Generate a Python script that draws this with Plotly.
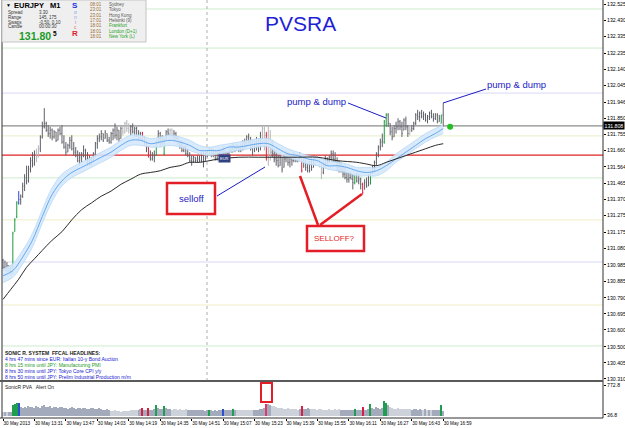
import plotly.graph_objects as go

# ---------------- data ----------------
bar_index = list(range(225))

high = [131.02,131.01,131.00,130.98,130.98,131.18,131.26,131.36,131.42,131.40,
        131.47,131.52,131.57,131.57,131.62,131.65,131.66,131.67,131.69,131.75,
        131.83,131.91,131.83,131.81,131.80,131.79,131.78,131.77,131.79,131.80,
        131.81,131.75,131.71,131.70,131.74,131.75,131.71,131.68,131.66,131.65,
        131.65,131.69,131.67,131.65,131.63,131.62,131.65,131.71,131.75,131.76,
        131.78,131.76,131.78,131.76,131.74,131.77,131.79,131.82,131.80,131.78,
        131.80,131.81,131.83,131.84,131.82,131.81,131.82,131.80,131.80,131.78,
        131.77,131.77,131.74,131.72,131.69,131.66,131.65,131.66,131.72,131.78,
        131.77,131.75,131.73,131.78,131.79,131.79,131.79,131.78,131.77,131.74,
        131.72,131.72,131.69,131.69,131.67,131.65,131.63,131.63,131.62,131.63,
        131.63,131.65,131.65,131.65,131.66,131.68,131.67,131.67,131.66,131.66,
        131.67,131.66,131.68,131.67,131.66,131.67,131.69,131.70,131.69,131.70,
        131.69,131.70,131.72,131.73,131.75,131.76,131.74,131.72,131.72,131.74,
        131.73,131.77,131.81,131.80,131.77,131.81,131.78,131.72,131.67,131.66,
        131.63,131.65,131.62,131.63,131.66,131.65,131.63,131.63,131.65,131.63,
        131.62,131.65,131.62,131.62,131.60,131.59,131.60,131.62,131.62,131.63,
        131.63,131.62,131.59,131.60,131.63,131.62,131.63,131.66,131.66,131.65,
        131.62,131.60,131.59,131.57,131.56,131.53,131.53,131.53,131.52,131.52,
        131.53,131.52,131.50,131.47,131.49,131.50,131.52,131.53,131.57,131.60,
        131.65,131.69,131.73,131.76,131.84,131.88,131.88,131.82,131.80,131.81,
        131.83,131.85,131.84,131.83,131.85,131.86,131.81,131.80,131.81,131.83,
        131.88,131.90,131.89,131.90,131.89,131.88,131.87,131.89,131.90,131.88,
        131.88,131.88,131.87,131.87,131.94]

low = [130.96,130.95,130.94,130.94,130.92,130.93,131.18,131.26,131.34,131.34,
       131.38,131.42,131.46,131.47,131.53,131.56,131.57,131.59,131.62,131.65,
       131.73,131.79,131.77,131.74,131.73,131.72,131.73,131.71,131.72,131.75,
       131.70,131.67,131.63,131.65,131.67,131.66,131.63,131.62,131.59,131.57,
       131.59,131.62,131.60,131.57,131.57,131.57,131.59,131.62,131.67,131.71,
       131.72,131.71,131.73,131.71,131.70,131.70,131.72,131.73,131.72,131.71,
       131.73,131.75,131.76,131.77,131.76,131.75,131.76,131.74,131.74,131.72,
       131.72,131.72,131.69,131.65,131.62,131.60,131.60,131.59,131.63,131.70,
       131.68,131.69,131.63,131.72,131.75,131.73,131.73,131.72,131.72,131.69,
       131.67,131.65,131.65,131.63,131.62,131.59,131.57,131.59,131.59,131.59,
       131.59,131.59,131.56,131.60,131.62,131.63,131.62,131.62,131.60,131.60,
       131.62,131.60,131.62,131.62,131.60,131.63,131.65,131.65,131.65,131.66,
       131.65,131.65,131.66,131.67,131.68,131.69,131.66,131.63,131.65,131.66,
       131.65,131.66,131.69,131.66,131.60,131.57,131.60,131.62,131.59,131.57,
       131.56,131.57,131.53,131.56,131.59,131.57,131.56,131.57,131.59,131.59,
       131.59,131.60,131.53,131.56,131.54,131.53,131.53,131.54,131.56,131.57,
       131.59,131.56,131.49,131.52,131.56,131.57,131.59,131.60,131.59,131.59,
       131.54,131.53,131.53,131.50,131.49,131.47,131.47,131.49,131.43,131.46,
       131.47,131.46,131.43,131.40,131.43,131.44,131.45,131.46,131.52,131.53,
       131.57,131.62,131.66,131.68,131.70,131.80,131.80,131.75,131.72,131.74,
       131.76,131.78,131.78,131.74,131.78,131.78,131.74,131.75,131.77,131.78,
       131.81,131.84,131.83,131.85,131.84,131.83,131.82,131.84,131.85,131.83,
       131.84,131.82,131.83,131.82,131.80]

open_ = [131.01,130.97,130.96,130.98,130.95,130.94,131.18,131.27,131.35,131.37,
         131.39,131.45,131.50,131.48,131.55,131.60,131.58,131.64,131.62,131.67,
         131.74,131.80,131.82,131.78,131.76,131.78,131.74,131.77,131.72,131.78,
         131.76,131.71,131.68,131.65,131.69,131.72,131.67,131.65,131.63,131.60,
         131.62,131.64,131.66,131.61,131.59,131.60,131.59,131.64,131.70,131.73,
         131.74,131.76,131.73,131.76,131.72,131.71,131.76,131.78,131.75,131.78,
         131.73,131.79,131.77,131.82,131.79,131.78,131.80,131.77,131.79,131.75,
         131.76,131.76,131.72,131.70,131.68,131.62,131.61,131.63,131.63,131.71,
         131.76,131.70,131.64,131.73,131.77,131.76,131.78,131.74,131.76,131.73,
         131.70,131.69,131.66,131.68,131.64,131.63,131.60,131.59,131.62,131.60,
         131.61,131.60,131.63,131.60,131.64,131.63,131.67,131.64,131.66,131.61,
         131.64,131.63,131.62,131.67,131.63,131.64,131.66,131.65,131.69,131.66,
         131.69,131.66,131.69,131.71,131.70,131.74,131.71,131.67,131.69,131.70,
         131.68,131.72,131.75,131.79,131.75,131.62,131.68,131.65,131.64,131.61,
         131.60,131.57,131.62,131.56,131.61,131.64,131.59,131.61,131.60,131.63,
         131.60,131.61,131.61,131.56,131.60,131.56,131.54,131.58,131.56,131.61,
         131.59,131.62,131.57,131.53,131.58,131.61,131.59,131.62,131.64,131.61,
         131.60,131.56,131.55,131.54,131.52,131.50,131.49,131.50,131.49,131.47,
         131.52,131.48,131.49,131.46,131.43,131.47,131.45,131.46,131.53,131.56,
         131.59,131.64,131.68,131.71,131.71,131.81,131.87,131.82,131.77,131.74,
         131.79,131.80,131.83,131.80,131.78,131.84,131.80,131.76,131.78,131.79,
         131.82,131.87,131.86,131.88,131.86,131.87,131.84,131.86,131.88,131.86,
         131.85,131.87,131.83,131.82,131.87]

close = [130.97,130.96,130.98,130.95,130.94,131.17,131.25,131.35,131.37,131.39,
         131.45,131.50,131.48,131.55,131.60,131.58,131.64,131.61,131.67,131.74,
         131.80,131.82,131.78,131.76,131.78,131.74,131.77,131.72,131.78,131.76,
         131.71,131.68,131.65,131.69,131.72,131.67,131.65,131.63,131.60,131.62,
         131.64,131.66,131.61,131.59,131.60,131.58,131.64,131.70,131.73,131.74,
         131.76,131.72,131.77,131.72,131.71,131.76,131.78,131.75,131.78,131.73,
         131.79,131.77,131.82,131.79,131.78,131.80,131.77,131.79,131.75,131.76,
         131.76,131.72,131.70,131.67,131.62,131.61,131.63,131.62,131.71,131.76,
         131.70,131.72,131.73,131.77,131.76,131.78,131.74,131.76,131.73,131.70,
         131.69,131.66,131.68,131.64,131.63,131.60,131.59,131.62,131.60,131.61,
         131.60,131.63,131.58,131.64,131.63,131.67,131.64,131.66,131.61,131.64,
         131.63,131.62,131.67,131.63,131.64,131.66,131.65,131.70,131.66,131.69,
         131.66,131.69,131.71,131.70,131.74,131.71,131.67,131.69,131.70,131.68,
         131.72,131.75,131.79,131.74,131.62,131.68,131.65,131.64,131.61,131.60,
         131.57,131.62,131.55,131.61,131.64,131.59,131.61,131.60,131.63,131.60,
         131.61,131.62,131.54,131.60,131.56,131.54,131.58,131.56,131.61,131.59,
         131.62,131.57,131.53,131.58,131.61,131.59,131.62,131.64,131.61,131.60,
         131.56,131.55,131.54,131.52,131.50,131.49,131.50,131.49,131.47,131.52,
         131.48,131.49,131.46,131.41,131.47,131.45,131.47,131.53,131.56,131.59,
         131.64,131.68,131.71,131.72,131.83,131.87,131.82,131.77,131.74,131.79,
         131.80,131.83,131.80,131.76,131.84,131.80,131.76,131.78,131.79,131.82,
         131.87,131.86,131.88,131.86,131.87,131.84,131.86,131.88,131.86,131.85,
         131.87,131.83,131.85,131.87,131.81]

volume = [110,120,100,115,105,290,310,320,330,230,
          210,240,220,250,230,240,220,250,230,210,
          260,270,240,230,250,220,240,230,210,225,
          240,200,220,190,210,230,200,180,210,220,
          190,200,215,190,180,200,210,190,185,200,
          175,170,160,180,150,140,130,150,140,130,
          120,135,125,140,130,150,160,170,160,150,
          180,200,170,160,210,170,160,180,270,200,
          190,180,260,210,190,180,170,190,175,165,
          180,170,160,175,165,155,170,160,150,165,
          155,160,150,145,155,160,150,140,155,145,
          150,160,185,170,160,150,165,190,160,150,
          165,155,170,160,150,165,170,160,150,160,
          170,180,190,200,300,310,280,260,250,230,
          220,200,210,190,185,200,180,175,190,180,
          170,185,250,190,180,200,185,175,190,180,
          170,185,175,160,170,165,175,160,170,180,
          165,175,170,160,150,165,155,170,160,190,
          160,170,150,240,150,160,180,310,200,180,
          240,200,190,220,370,330,280,230,200,190,
          180,200,190,180,185,175,190,180,170,185,
          175,165,180,170,160,175,165,155,170,160,
          150,165,155,270,140]

green_bars = [5, 6, 7, 78, 82, 105, 117, 179, 187, 194, 195, 223]
red_bars = [71, 74, 152, 183]
blue_bars = [8, 112]
climax_bars = [134]
light_bars = [17, 18, 61, 62, 63, 64, 85, 86, 132, 133, 135, 136, 159, 160, 161, 162, 207]
volume_light_bars = ([0, 2] + list(range(55, 69)) + list(range(86, 94)) + list(range(119, 128))
                     + list(range(137, 151)) + list(range(157, 172)) + list(range(197, 208)) + [214, 216, 218])

# Sonic R dragon (EMA34 of high / close / low), sampled every 5 bars
dragon_index = [0,5,10,15,20,25,30,35,40,45,50,55,60,65,70,75,80,85,90,95,100,105,110,115,120,
                125,130,135,140,145,150,155,160,165,170,175,180,185,190,195,200,205,210,215,220,224]
dragon_mid = [130.92,130.95,131.03,131.13,131.27,131.40,131.48,131.53,131.56,131.59,131.62,131.65,
              131.69,131.72,131.72,131.70,131.71,131.72,131.71,131.69,131.66,131.66,131.66,131.68,
              131.68,131.69,131.70,131.70,131.67,131.64,131.63,131.61,131.60,131.57,131.57,131.56,
              131.54,131.53,131.54,131.57,131.61,131.65,131.69,131.73,131.76,131.79]
dragon_high = [130.96,130.99,131.07,131.17,131.31,131.44,131.52,131.56,131.59,131.62,131.65,131.68,
               131.72,131.75,131.75,131.73,131.74,131.75,131.74,131.72,131.69,131.68,131.69,131.70,
               131.71,131.72,131.73,131.73,131.70,131.67,131.65,131.63,131.62,131.60,131.59,131.58,
               131.56,131.56,131.56,131.59,131.64,131.68,131.72,131.76,131.79,131.81]
dragon_low = [130.88,130.91,130.99,131.09,131.23,131.36,131.45,131.50,131.53,131.56,131.59,131.62,
              131.66,131.69,131.69,131.68,131.68,131.69,131.68,131.66,131.64,131.63,131.64,131.65,
              131.66,131.67,131.68,131.68,131.64,131.62,131.60,131.58,131.57,131.55,131.54,131.53,
              131.51,131.51,131.51,131.54,131.59,131.63,131.67,131.71,131.74,131.76]

# slow moving average
slow_ma_index = [0,4,8,12,16,20,25,30,35,40,45,50,55,60,65,70,75,80,85,90,95,100,110,120,130,140,
                 150,160,170,180,185,190,195,200,205,210,215,220,224]
slow_ma = [130.78,130.84,130.90,130.97,131.02,131.07,131.13,131.18,131.25,131.31,131.35,131.39,
           131.42,131.46,131.49,131.52,131.53,131.54,131.56,131.57,131.59,131.59,131.61,131.62,
           131.62,131.62,131.62,131.62,131.60,131.59,131.58,131.57,131.59,131.61,131.63,131.65,
           131.67,131.69,131.70]

# horizontal levels
level_prices = [132.496, 132.265, 131.999, 131.746, 131.633, 131.498, 131.250, 131.001, 130.747, 130.505]
level_colors = ["#cdeccd", "#cdeccd", "#d8d8f6", "#e4efc8", "#e02424", "#cdeccd", "#eeeec8", "#d8d8f6", "#eeeec8", "#cdeccd"]
bid_price = 131.805
bid_label = "131.808"
news_event_index = 103.8
signal_index = [227.5]
signal_price = [131.80]

price_tick_values = [132.525,132.430,132.335,132.235,132.140,132.045,131.946,131.850,131.755,131.660,
                     131.564,131.465,131.370,131.275,131.175,131.080,130.985,130.885,130.790,130.695,
                     130.600,130.500,130.405,130.310]
price_tick_text = ["%.3f" % v for v in price_tick_values]
volume_tick_values = [36.8, 772.8]
volume_tick_text = ["36.8", "772.8"]

time_tick_index = [0,16,32,48,64,80,96,112,128,144,160,176,192,208,224]
time_tick_text = ["30 May 2013","30 May 13:31","30 May 13:47","30 May 14:03","30 May 14:19",
                  "30 May 14:35","30 May 14:51","30 May 15:07","30 May 15:23","30 May 15:39",
                  "30 May 15:55","30 May 16:11","30 May 16:27","30 May 16:43","30 May 16:59"]

# ---------------- figure ----------------
W, H = 625, 428
ML, MR, MT, MB = 2, 22, 0, 10
PW, PH = W - ML - MR, H - MT - MB
FONT = "Liberation Sans, Arial, sans-serif"


def px(x):
    return (x - ML) / PW


def py(y):
    return (H - MB - y) / PH


kind = ["n"] * len(bar_index)
for i in light_bars:
    kind[i] = "l"
for i in green_bars:
    kind[i] = "g"
for i in red_bars:
    kind[i] = "r"
for i in blue_bars:
    kind[i] = "b"
for i in climax_bars:
    kind[i] = "m"

candle_colors = {"n": "#5e5e68", "l": "#b4b4b8", "g": "#1e9a3c", "r": "#e0203c", "b": "#3048c8", "m": "#e0203c"}

fig = go.Figure()

# dragon band
fig.add_trace(go.Scatter(x=dragon_index, y=dragon_low, mode="lines", line=dict(color="#b6d8f6", width=0.8, shape="spline"),
                         hoverinfo="skip", showlegend=False))
fig.add_trace(go.Scatter(x=dragon_index, y=dragon_high, mode="lines", line=dict(color="#b6d8f6", width=0.8, shape="spline"),
                         fill="tonexty", fillcolor="rgba(212,232,251,0.9)", hoverinfo="skip", showlegend=False))
fig.add_trace(go.Scatter(x=dragon_index, y=dragon_mid, mode="lines", line=dict(color="#4a98ec", width=0.8, shape="spline"),
                         hoverinfo="skip", showlegend=False))
fig.add_trace(go.Scatter(x=slow_ma_index, y=slow_ma, mode="lines", line=dict(color="#2a2a2a", width=1, shape="spline"),
                         hoverinfo="skip", showlegend=False))

# price bars
for k, col in candle_colors.items():
    idx = [i for i in bar_index if kind[i] == k]
    if not idx:
        continue
    fig.add_trace(go.Ohlc(x=idx, open=[open_[i] for i in idx], high=[high[i] for i in idx],
                          low=[low[i] for i in idx], close=[close[i] for i in idx],
                          increasing=dict(line=dict(color=col, width=1)),
                          decreasing=dict(line=dict(color=col, width=1)),
                          tickwidth=0.3, hoverinfo="skip", showlegend=False, xaxis="x", yaxis="y"))

fig.add_trace(go.Scatter(x=signal_index, y=signal_price, mode="markers",
                         marker=dict(color="#22c022", size=6), hoverinfo="skip", showlegend=False))

# volume bars
vol_colors = {"n": "#a3aabb", "l": "#cdd1d9", "g": "#1f9e4f", "r": "#d81e45", "b": "#2e4fd0", "m": "#e0386e"}
vkind = list(kind)
for i in volume_light_bars:
    if vkind[i] in ("n", "l"):
        vkind[i] = "l"
for i in bar_index:
    if vkind[i] == "l" and i not in volume_light_bars:
        vkind[i] = "n"
for k, col in vol_colors.items():
    idx = [i for i in bar_index if vkind[i] == k]
    if not idx:
        continue
    fig.add_trace(go.Bar(x=idx, y=[volume[i] for i in idx], marker=dict(color=col, line=dict(width=0)),
                         width=0.62, hoverinfo="skip", showlegend=False, xaxis="x", yaxis="y2"))

shapes = []
# levels
for p, c in zip(level_prices, level_colors):
    shapes.append(dict(type="line", xref="paper", x0=0, x1=1, yref="y", y0=p, y1=p,
                       line=dict(color=c, width=1.2 if c == "#e02424" else 1), layer="below"))
shapes.append(dict(type="line", xref="paper", x0=0, x1=1, yref="y", y0=bid_price, y1=bid_price,
                   line=dict(color="#8c8c8c", width=1.3), layer="below"))
shapes.append(dict(type="line", xref="x", x0=news_event_index, x1=news_event_index, yref="paper",
                   y0=py(381), y1=1, line=dict(color="#b0b0b0", width=1, dash="dot"), layer="below"))
# frame
shapes += [
    dict(type="line", xref="paper", yref="paper", x0=px(2), x1=px(2), y0=py(418), y1=py(0), line=dict(color="#303030", width=1)),
    dict(type="line", xref="paper", yref="paper", x0=px(603), x1=px(603), y0=py(418), y1=py(0), line=dict(color="#303030", width=1)),
    dict(type="line", xref="paper", yref="paper", x0=px(0), x1=px(603), y0=py(381), y1=py(381), line=dict(color="#5a5a5a", width=2)),
    dict(type="line", xref="paper", yref="paper", x0=px(0), x1=px(603), y0=py(418), y1=py(418), line=dict(color="#303030", width=1)),
]
# info panel
shapes.append(dict(type="rect", xref="paper", yref="paper", x0=px(2), x1=px(146), y0=py(42), y1=py(0),
                   fillcolor="#efefef", line=dict(color="#c4c4c4", width=1)))
# call-out boxes and lines
RED = "#e41e26"
BLUE = "#1c1cc4"
shapes += [
    dict(type="rect", xref="paper", yref="paper", x0=px(167), x1=px(215), y0=py(214), y1=py(183),
         fillcolor="white", line=dict(color=RED, width=2.5)),
    dict(type="rect", xref="paper", yref="paper", x0=px(307), x1=px(364), y0=py(251), y1=py(226),
         fillcolor="white", line=dict(color=RED, width=2.5)),
    dict(type="line", xref="paper", yref="paper", x0=px(318), x1=px(300), y0=py(225), y1=py(176), line=dict(color=RED, width=2.5)),
    dict(type="line", xref="paper", yref="paper", x0=px(320), x1=px(362), y0=py(225), y1=py(194), line=dict(color=RED, width=2.5)),
    dict(type="line", xref="paper", yref="paper", x0=px(217), x1=px(265), y0=py(196), y1=py(167), line=dict(color=BLUE, width=1)),
    dict(type="line", xref="paper", yref="paper", x0=px(348), x1=px(386), y0=py(103), y1=py(118), line=dict(color=BLUE, width=1)),
    dict(type="line", xref="paper", yref="paper", x0=px(486), x1=px(443), y0=py(89), y1=py(103), line=dict(color=BLUE, width=1)),
    dict(type="rect", xref="paper", yref="paper", x0=px(261), x1=px(272), y0=py(402), y1=py(383),
         fillcolor="white", line=dict(color=RED, width=2)),
]

ann = []


def T(x, y, text, size=5, color="#000000", anchor="left", bold=False, family=FONT, bg=None):
    d = dict(xref="paper", yref="paper", x=px(x), y=py(y), text=("<b>%s</b>" % text) if bold else text,
             showarrow=False, xanchor=anchor, yanchor="middle",
             font=dict(size=size, color=color, family=family))
    if bg:
        d["bgcolor"] = bg
    ann.append(d)


T(300, 23, "PVSRA", size=21, color="#1f1fd8", anchor="center")
T(316, 101, "pump &amp; dump", size=9.5, color=BLUE, anchor="center")
T(516, 84, "pump &amp; dump", size=9.5, color=BLUE, anchor="center")
T(191, 198, "selloff", size=9.5, color=BLUE, anchor="center")
T(335, 238, "SELLOFF?", size=8, color=RED, anchor="center")

# info panel text
T(4, 5, "▼", size=5)
T(12, 5.5, "EURJPY", size=7.5, bold=True)
T(48, 5.5, "M1", size=7.5, bold=True)
T(6, 12, "Spread", size=4.5, color="#333333")
T(37, 12, "3.30", size=4.5, color="#333333")
T(6, 17, "Range", size=4.5, color="#333333")
T(37, 17, "145, 175", size=4.5, color="#333333")
T(6, 22, "Swaps", size=4.5, color="#333333")
T(37, 22, "-0.50, 0.10", size=4.5, color="#333333")
T(6, 27, "Candle", size=4.5, color="#333333")
T(37, 27, "00:00:30", size=4.5, color="#333333")
T(17, 36, "131.80", size=10.5, color="#1a9a28", bold=True)
T(51, 33, "5", size=6.5, bold=True)
for yy, letter, col, sz, bd in [(5, "S", "#1c2ee0", 8, True), (12, "o", "#7f9cf0", 5, False), (17, "n", "#9a9ae8", 5, False),
                                (22, "i", "#c080b0", 5, False), (27, "c", "#e07070", 5, False), (33.5, "R", "#e01e2a", 8, True)]:
    T(75, yy, letter, size=sz, color=col, anchor="center", bold=bd)
for yy, t_, city, cc in [(4, "08:01", "Sydney", "#555555"), (9.5, "23:01", "Tokyo", "#555555"),
                         (15, "23:01", "Hong Kong", "#555555"), (20, "17:01", "Helsinki (9)", "#555555"),
                         (25.5, "18:01", "Frankfurt", "#22a022"), (31, "18:01", "London (D+1)", "#22a022"),
                         (36.5, "18:01", "New York (L)", "#22a022")]:
    T(88, yy, t_, size=4.5, color="#9a6a30")
    T(107, yy, city, size=4.5, color=cc)

# headlines
T(3, 353, "SONIC R. SYSTEM  FFCAL HEADLINES:", size=5, color="#202020", bold=True)
T(3, 359, "4 hrs 47 mins since EUR: Italian 10-y Bond Auction", size=5, color="#2020d0")
T(3, 365, "8 hrs 15 mins until JPY: Manufacturing PMI", size=5, color="#1e9a28")
T(3, 371, "8 hrs 30 mins until JPY: Tokyo Core CPI y/y", size=5, color="#2020d0")
T(3, 377, "8 hrs 50 mins until JPY: Prelim Industrial Production m/m", size=5, color="#2020d0")

T(3, 387, "SonicR PVA &nbsp; Alert On", size=5, color="#202020")
T(224, 158, "EUR", size=4, color="white", anchor="center", bg="#304080")

# bid label
ann.append(dict(xref="paper", yref="y", x=1.0, y=bid_price, text=bid_label, showarrow=False, xanchor="left",
                yanchor="middle", bgcolor="#000000", borderpad=0.5,
                font=dict(size=5.2, color="white", family=FONT)))

fig.update_layout(
    width=W, height=H,
    margin=dict(l=ML, r=MR, t=MT, b=MB, pad=0),
    paper_bgcolor="white", plot_bgcolor="white",
    showlegend=False,
    shapes=shapes, annotations=ann,
    font=dict(family=FONT, size=6, color="#000000"),
    xaxis=dict(domain=[0, 1], anchor="y2", range=[-0.51, 305.3], showgrid=False, zeroline=False, showline=False,
               tickvals=time_tick_index, ticktext=time_tick_text, ticks="outside", ticklen=2, tickcolor="#000000",
               tickangle=0, ticklabelposition="outside right", tickfont=dict(size=4.6, family=FONT, color="#000000"),
               rangeslider=dict(visible=False), automargin=False, fixedrange=True),
    yaxis=dict(domain=[py(381), 1], anchor="x", range=[130.298, 132.549], side="right", showgrid=False,
               zeroline=False, showline=False, tickvals=price_tick_values, ticktext=price_tick_text,
               ticks="outside", ticklen=2, tickcolor="#000000", tickfont=dict(size=5.2, family=FONT),
               automargin=False),
    yaxis2=dict(domain=[0, py(383)], anchor="x", range=[-37, 822], side="right", showgrid=False,
                zeroline=False, showline=False, tickvals=volume_tick_values, ticktext=volume_tick_text,
                ticks="outside", ticklen=2, tickcolor="#000000", tickfont=dict(size=5.2, family=FONT),
                automargin=False),
    bargap=0,
)

fig.write_html("out.html")
